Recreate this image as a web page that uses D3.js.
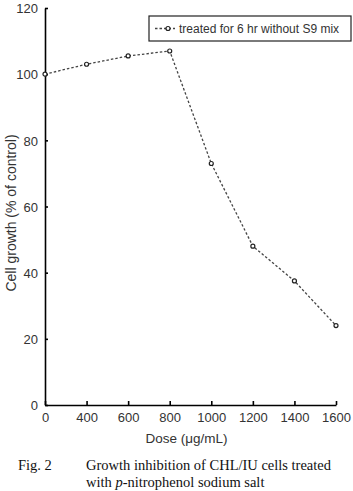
<!DOCTYPE html>
<html>
<head>
<meta charset="utf-8">
<script src="https://cdn.jsdelivr.net/npm/d3@7"></script>
<style>
  body { margin: 0; background: #fff; }
  svg { display: block; }
</style>
</head>
<body>
<div id="chart"></div>
<script>
// data
var doses = ["0", "400", "600", "800", "1000", "1200", "1400", "1600"];
var growth = [100, 103, 105.5, 107, 73, 48, 37.5, 24];
var yTicks = [0, 20, 40, 60, 80, 100, 120];
var seriesName = "treated for 6 hr without S9 mix";

var totalWidth = 353,
    totalHeight = 491,
    margin = {top: 8, right: 17, bottom: 86, left: 45};

var width = totalWidth - margin.left - margin.right,
    height = totalHeight - margin.top - margin.bottom;

var sansFont = "'Liberation Sans', Arial, sans-serif",
    serifFont = "'Liberation Serif', 'Times New Roman', serif";

var svg = d3.select("#chart").append("svg")
    .attr("width", totalWidth)
    .attr("height", totalHeight);

var g = svg.append("g")
    .attr("transform", "translate(" + margin.left + "," + margin.top + ")");

var xScale = d3.scalePoint().domain(doses).range([0, width]);
var yScale = d3.scaleLinear().domain([0, 120]).range([height, 0]);

// axes: ticks point inward
var xAxis = d3.axisBottom(xScale).tickSizeInner(-4).tickSizeOuter(0).tickPadding(8);
var yAxis = d3.axisLeft(yScale).tickValues(yTicks).tickSizeInner(-3).tickSizeOuter(0).tickPadding(7);

var gx = g.append("g")
    .attr("transform", "translate(0," + height + ")")
    .call(xAxis);
var gy = g.append("g").call(yAxis);

[gx, gy].forEach(function(a) {
    a.selectAll("path.domain").attr("stroke", "#000").attr("stroke-width", 1.6);
    a.selectAll(".tick line").attr("stroke", "#000").attr("stroke-width", 1.6);
    a.selectAll(".tick text")
        .attr("fill", "#333")
        .style("font-family", sansFont)
        .style("font-size", "13px");
});
gy.selectAll(".tick text").attr("dy", "0.36em");

// axis titles
g.append("text")
    .attr("x", width / 2 - 4)
    .attr("y", height + 38)
    .attr("text-anchor", "middle")
    .attr("fill", "#333")
    .style("font-family", sansFont)
    .style("font-size", "13.5px")
    .text("Dose (\u03bcg/mL)");

g.append("text")
    .attr("transform", "rotate(-90)")
    .attr("x", -205)
    .attr("y", -29)
    .attr("text-anchor", "middle")
    .attr("fill", "#333")
    .style("font-family", sansFont)
    .style("font-size", "14px")
    .text("Cell growth (% of control)");

// the series
var points = doses.map(function(d, i) { return [d, growth[i]]; });

var line = d3.line()
    .x(function(d) { return xScale(d[0]); })
    .y(function(d) { return yScale(d[1]); });

g.append("path")
    .datum(points)
    .attr("d", line)
    .attr("fill", "none")
    .attr("stroke", "#444")
    .attr("stroke-width", 1.3)
    .attr("stroke-dasharray", "2.5,2");

g.selectAll("circle.pt")
    .data(points)
    .enter().append("circle")
    .attr("class", "pt")
    .attr("cx", function(d) { return xScale(d[0]); })
    .attr("cy", function(d) { return yScale(d[1]); })
    .attr("r", 2)
    .attr("fill", "#fff")
    .attr("stroke", "#222")
    .attr("stroke-width", 1.2);

// legend
var legend = svg.append("g").attr("transform", "translate(149,16)");
legend.append("rect")
    .attr("width", 202)
    .attr("height", 25)
    .attr("fill", "#fff")
    .attr("stroke", "#222")
    .attr("stroke-width", 1.2);
legend.append("line")
    .attr("x1", 6).attr("x2", 26)
    .attr("y1", 12.5).attr("y2", 12.5)
    .attr("stroke", "#444")
    .attr("stroke-width", 1.3)
    .attr("stroke-dasharray", "2.5,2");
legend.append("circle")
    .attr("cx", 19).attr("cy", 12.5).attr("r", 2)
    .attr("fill", "#fff").attr("stroke", "#222").attr("stroke-width", 1.2);
legend.append("text")
    .attr("x", 30)
    .attr("y", 12.5)
    .attr("dy", "0.36em")
    .attr("fill", "#333")
    .style("font-family", sansFont)
    .style("font-size", "12px")
    .text(seriesName);

// caption
var cap = svg.append("g")
    .style("font-family", serifFont)
    .style("font-size", "14.5px")
    .attr("fill", "#111");
cap.append("text").attr("x", 18).attr("y", 470).text("Fig. 2");
cap.append("text").attr("x", 86).attr("y", 470).attr("textLength", 245).text("Growth inhibition of CHL/IU cells treated");
var l2 = cap.append("text").attr("x", 86).attr("y", 487);
l2.append("tspan").text("with ");
l2.append("tspan").style("font-style", "italic").text("p");
l2.append("tspan").text("-nitrophenol sodium salt");
</script>
</body>
</html>
